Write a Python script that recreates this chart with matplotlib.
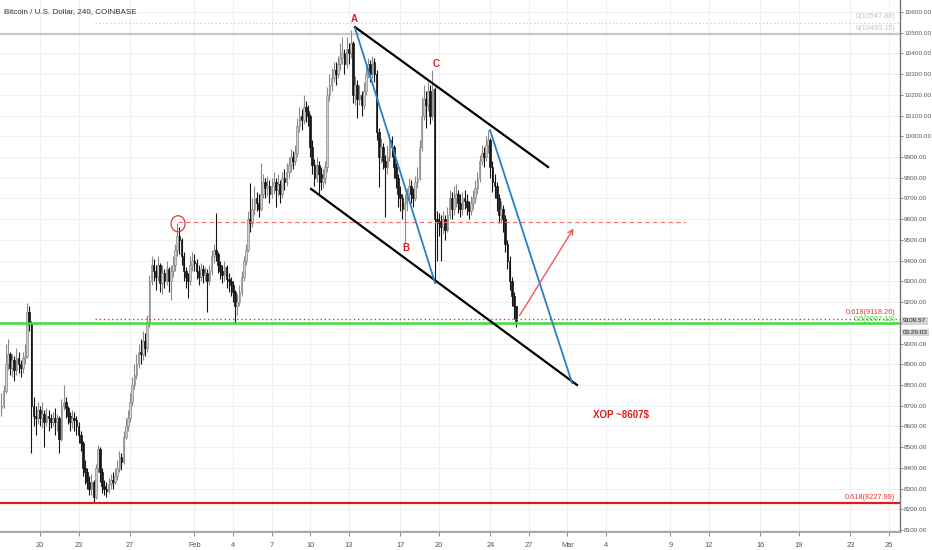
import matplotlib
matplotlib.use("Agg")
import matplotlib.pyplot as plt
import matplotlib.transforms as mtransforms
from matplotlib.patches import Ellipse
import numpy as np

# ---------------- data ----------------
title = "Bitcoin / U.S. Dollar, 240, COINBASE"
first_open = 8690
# 4H candles from Jan 17 00:00 (day -3 relative to Jan 20) to Feb 26 00:00
closes = [
    8700, 8770, 8900, 8950, 8880, 8920,
    8870, 8930, 8900, 8880, 8930, 8940,
    9150, 9100, 8700, 8650, 8640, 8680,
    8640, 8660, 8620, 8650, 8640, 8620,
    8640, 8620, 8640, 8540, 8700, 8720,
    8690, 8650, 8620, 8640, 8630, 8600,
    8560, 8520, 8400, 8380, 8330, 8300,
    8330, 8260, 8400, 8490, 8380, 8310,
    8300, 8290, 8320, 8340, 8330, 8360,
    8400, 8450, 8430, 8550, 8600, 8640,
    8720, 8800, 8850, 8900, 8960, 8950,
    9010, 8980, 9100, 9300, 9380, 9350,
    9320, 9380, 9290, 9340, 9300, 9360,
    9300, 9350, 9380, 9450, 9520, 9500,
    9420, 9350, 9320, 9300, 9380, 9400,
    9390, 9350, 9320, 9360, 9330, 9340,
    9300, 9350, 9420, 9450, 9430, 9380,
    9350, 9330, 9370, 9310, 9300, 9280,
    9250, 9180, 9200, 9250, 9320, 9400,
    9450, 9600, 9580, 9650, 9700, 9680,
    9650, 9720, 9780, 9750, 9760, 9720,
    9760, 9780, 9740, 9770, 9720, 9800,
    9780, 9830, 9860, 9900, 9880, 9920,
    10050, 10100, 10080, 10140, 10120, 10100,
    9950, 9860, 9800, 9860, 9820, 9780,
    9800, 9850, 10200, 10250, 10280, 10320,
    10300, 10350, 10380, 10400, 10350, 10420,
    10400, 10450, 10200, 10250, 10180, 10200,
    10150, 10220, 10300, 10350, 10300, 10360,
    10300, 10020, 9900, 9950, 9880, 9850,
    9900, 9980, 9950, 9850, 9800, 9720,
    9700, 9650, 9680, 9720, 9760, 9720,
    9700, 9780, 9800, 9950, 10100, 10180,
    10150, 10220, 10100, 10230, 9600, 9590,
    9580, 9560, 9600, 9550, 9620, 9700,
    9650, 9700, 9720, 9680, 9650, 9700,
    9690, 9660, 9640, 9680, 9700, 9750,
    9800, 9880, 9920, 9900, 9960, 9980,
    9850, 9780, 9760, 9700, 9620, 9650,
    9600, 9480, 9400, 9300, 9230, 9180,
    9109.57,
]
highs = [
    8760, 8800, 9000, 9020, 8960, 8950,
    8940, 8980, 8960, 8920, 8960, 9000,
    9195, 9180, 9110, 8740, 8700, 8720,
    8700, 8720, 8680, 8690, 8680, 8660,
    8670, 8690, 8660, 8650, 8730, 8800,
    8740, 8700, 8670, 8680, 8670, 8650,
    8620, 8580, 8530, 8440, 8400, 8360,
    8370, 8340, 8420, 8510, 8500, 8400,
    8340, 8330, 8350, 8370, 8380, 8400,
    8440, 8480, 8470, 8580, 8640, 8680,
    8760, 8840, 8900, 8950, 9000, 9020,
    9060, 9050, 9140, 9330, 9420, 9410,
    9380, 9420, 9390, 9380, 9360, 9400,
    9370, 9380, 9420, 9480, 9580, 9560,
    9510, 9440, 9370, 9340, 9420, 9440,
    9430, 9410, 9380, 9390, 9380, 9370,
    9360, 9380, 9450, 9480, 9630, 9440,
    9400, 9380, 9400, 9380, 9340, 9320,
    9300, 9260, 9240, 9280, 9350, 9420,
    9480, 9640, 9775, 9700, 9760, 9730,
    9720, 9870, 9820, 9800, 9810, 9790,
    9800, 9830, 9800, 9820, 9790, 9830,
    9840, 9870, 9900, 9940, 9930, 9960,
    10090, 10140, 10130, 10200, 10170, 10150,
    10110, 9980, 9890, 9900, 9880, 9850,
    9840, 9880, 10240, 10300, 10330, 10360,
    10360, 10390, 10450, 10480, 10420, 10480,
    10450, 10513, 10460, 10290, 10270, 10250,
    10220, 10260, 10340, 10380, 10370, 10390,
    10380, 10320, 10040, 9990, 9970, 9910,
    9960, 10015, 10000, 9960, 9870, 9820,
    9760, 9720, 9720, 9750, 9800, 9790,
    9750, 9810, 9850, 9980, 10190, 10250,
    10220, 10260, 10250, 10320, 10240, 9640,
    9630, 9620, 9640, 9620, 9660, 9740,
    9730, 9760, 9770, 9740, 9720, 9730,
    9740, 9720, 9690, 9710, 9740, 9790,
    9830, 9910, 9960, 9950, 10000, 10030,
    9990, 9880, 9820, 9780, 9720, 9690,
    9670, 9620, 9500, 9420, 9320, 9250,
    9180,
]
lows = [
    8650, 8690, 8760, 8870, 8850, 8840,
    8820, 8850, 8860, 8840, 8860, 8900,
    8930, 9060, 8470, 8600, 8560, 8610,
    8600, 8590, 8500, 8600, 8580, 8590,
    8600, 8560, 8580, 8470, 8530, 8680,
    8640, 8610, 8580, 8590, 8580, 8560,
    8520, 8480, 8360, 8320, 8300, 8270,
    8270, 8230, 8250, 8380, 8330, 8280,
    8270, 8260, 8280, 8300, 8300, 8320,
    8340, 8380, 8390, 8420, 8540, 8580,
    8620, 8700, 8780, 8830, 8880, 8900,
    8920, 8940, 8960, 9080, 9280, 9300,
    9260, 9300, 9250, 9240, 9270, 9280,
    9250, 9210, 9320, 9350, 9420, 9430,
    9380, 9300, 9270, 9220, 9280, 9350,
    9350, 9310, 9280, 9300, 9290, 9300,
    9150, 9280, 9330, 9390, 9400, 9340,
    9310, 9290, 9300, 9270, 9250, 9230,
    9200, 9100, 9140, 9180, 9230, 9300,
    9380, 9440, 9540, 9560, 9620, 9640,
    9610, 9640, 9700, 9700, 9710, 9680,
    9700, 9720, 9660, 9710, 9680, 9700,
    9740, 9760, 9800, 9830, 9840, 9860,
    9900, 10020, 10030, 10060, 10070, 10050,
    9900, 9820, 9760, 9780, 9720, 9740,
    9750, 9770, 9830, 10170, 10220, 10260,
    10250, 10280, 10320, 10350, 10300, 10330,
    10350, 10380, 10160, 10150, 10090, 10150,
    10100, 10130, 10200, 10280, 10260, 10280,
    10260, 9980, 9755, 9870, 9840, 9610,
    9820, 9880, 9900, 9800, 9750, 9660,
    9640, 9600, 9485, 9640, 9690, 9680,
    9660, 9690, 9750, 9790, 9930, 10080,
    10040, 10120, 10060, 10080, 9300, 9400,
    9520, 9400, 9530, 9500, 9540, 9600,
    9600, 9620, 9660, 9630, 9610, 9620,
    9650, 9620, 9600, 9620, 9650, 9680,
    9720, 9780, 9860, 9850, 9880, 9920,
    9800, 9730, 9700, 9640, 9580, 9580,
    9540, 9440, 9360, 9260, 9180, 9120,
    9080,
]

date_ticks = [0, 3, 7, 12, 15, 18, 21, 24, 28, 31, 35, 38, 41, 44, 49, 52, 56, 59, 63, 66]
date_labels = ["20", "23", "27", "Feb", "4", "7", "10", "13", "17", "20", "24", "27",
               "Mar", "4", "9", "12", "16", "19", "23", "26"]
price_ticks = list(range(8100, 10601, 100))

last_price = 9109.57
countdown = "03:26:03"
lvl_gray_dotted = 10547.88
lvl_gray_solid = 10493.15
lvl_red_dotted = 9118.26
lvl_green = 9097.13
lvl_red_solid = 8227.99
lvl_red_dashed = 9586.0
lvl_circle = (10.73, 9578.0)

upper_channel = ([24.49, 39.49], [10527.0, 9852.0])
lower_channel = ([21.07, 41.74], [9746.0, 8800.0])
blue_1 = ([24.49, 30.71], [10522.0, 9292.0])
blue_2 = ([34.98, 41.36], [10030.0, 8809.0])
red_arrow = ([37.16, 41.59], [9123.0, 9567.0])
dashed_span = (10.73, 50.14)
dotted_start = 4.3

points = {"A": (24.41, 10566.0), "C": (30.78, 10350.0), "B": (28.45, 9461.0)}
target_text = ("XOP ~8607$", 45.17, 8655.0)

FAM = ["Liberation Sans", "DejaVu Sans"]

# ---------------- figure ----------------
W, H = 932, 550
fig = plt.figure(figsize=(W / 100, H / 100), dpi=100)
fig.patch.set_facecolor("white")
ax = fig.add_axes([0, (H - 532) / H, 900 / W, 532 / H])
ax.set_xlim(-3.11, 66.85)
ax.set_ylim(8090.3, 10657.9)

# grid
for d in date_ticks:
    ax.axvline(d, color="#edf0f4", lw=0.8, zorder=0)
for p in price_ticks:
    ax.axhline(p, color="#edf0f4", lw=0.8, zorder=0)

# candles
n = len(closes)
xs = -3 + np.arange(n) / 6.0
opens = [first_open] + closes[:-1]
width = 0.13
for x, o, c, h, l in zip(xs, opens, closes, highs, lows):
    up = c >= o
    wick = "#8a8a8a" if up else "#151515"
    ax.vlines(x, l, h, color=wick, lw=0.8, zorder=2)
    body_lo = min(o, c)
    body_h = max(abs(c - o), 5)
    if up:
        ax.bar(x, body_h, width, bottom=body_lo, color="#cfcfcf",
               edgecolor="#8a8a8a", linewidth=0.5, zorder=3)
    else:
        ax.bar(x, body_h, width, bottom=body_lo, color="#151515",
               edgecolor="#151515", linewidth=0.5, zorder=3)

# horizontal levels
ax.axhline(lvl_gray_solid, color="#c8c8c8", lw=1.6, zorder=1)
ax.plot([dotted_start, 66.85], [lvl_gray_dotted] * 2, color="#c8c8c8", lw=0.9, ls=(0, (1, 2)), zorder=1)
ax.plot([dotted_start, 66.85], [lvl_red_dotted] * 2, color="#e53935", lw=1.0, ls=(0, (1, 2)), zorder=4)
ax.axhline(lvl_green, color="#3ddc3d", lw=1.8, zorder=4)
ax.axhline(lvl_red_solid, color="#e01b1b", lw=1.6, zorder=4)
ax.plot(dashed_span, [lvl_red_dashed] * 2, color="#ef6b6b", lw=0.8, ls=(0, (4, 3)), zorder=4)

# circle around peak
circ = Ellipse(lvl_circle, width=14 / 12.864, height=16 / 0.2072, fill=False,
               edgecolor="#e53935", lw=0.9, zorder=5)
ax.add_patch(circ)

# channel and waves
ax.plot(*upper_channel, color="black", lw=1.6, zorder=5)
ax.plot(*lower_channel, color="black", lw=1.6, zorder=5)
ax.plot(*blue_1, color="#2a7fc4", lw=1.3, zorder=5)
ax.plot(*blue_2, color="#2a7fc4", lw=1.3, zorder=5)
ax.annotate("", xy=(red_arrow[0][1], red_arrow[1][1]), xytext=(red_arrow[0][0], red_arrow[1][0]),
            arrowprops=dict(arrowstyle="->", color="#f05a5a", lw=1.0, mutation_scale=9), zorder=6)

for k, (x, y) in points.items():
    ax.text(x, y, k, color="#e01b1b", fontsize=7, fontweight="bold", ha="center", va="center",
            zorder=6, family=FAM)
ax.text(target_text[1], target_text[2], target_text[0], color="#e01b1b", fontsize=7,
        fontweight="bold", ha="center", va="center", zorder=6, family=FAM)

# level labels on right
xr = 66.5
kw = dict(fontsize=5.3, ha="right", va="bottom", family=FAM)
ax.text(xr, lvl_gray_dotted + 12, f"0({lvl_gray_dotted:.2f})", color="#c4c4c4", **kw)
ax.text(xr, lvl_gray_solid + 8, f"0({lvl_gray_solid:.2f})", color="#c4c4c4", **kw)
ax.text(xr, lvl_red_dotted + 14, f"0.618({lvl_red_dotted:.2f})", color="#e53935", **kw)
ax.text(xr, lvl_green + 4, f"0.5({lvl_green:.2f})", color="#3ddc3d", **kw)
ax.text(xr, lvl_red_solid + 10, f"0.618({lvl_red_solid:.2f})", color="#e53935", **kw)

# title
ax.text(0.004, 0.978, title, transform=ax.transAxes, fontsize=5.8, color="#333333",
        ha="left", va="center", family=FAM)

# axes styling
for s in ["top", "left"]:
    ax.spines[s].set_visible(False)
ax.spines["right"].set_color("#777777")
ax.spines["bottom"].set_color("#9a9a9a")
ax.spines["right"].set_linewidth(1.0)
ax.spines["bottom"].set_linewidth(1.2)
ax.yaxis.tick_right()
ax.set_yticks(price_ticks)
# 9100 label sits under the last-price box in the original
ax.set_yticklabels(["" if p == 9100 else f"{p:.2f}" for p in price_ticks])
ax.set_xticks(date_ticks)
ax.set_xticklabels(date_labels)
ax.tick_params(axis="y", direction="out", length=2, width=0.6, color="#777777",
               labelsize=4.6, labelcolor="#555555", pad=1)
ax.tick_params(axis="x", direction="out", length=3, width=0.6, color="#777777",
               labelsize=5.3, labelcolor="#555555", pad=4)
for lab in ax.get_yticklabels() + ax.get_xticklabels():
    lab.set_family(FAM)

# last price and countdown boxes
tr = mtransforms.blended_transform_factory(ax.transAxes, ax.transData)
bkw = dict(transform=tr, fontsize=4.6, color="#222222", ha="left", va="center",
           family=FAM, clip_on=False)
ax.text(1.0035, last_price, f"{last_price:.2f}",
        bbox=dict(boxstyle="square,pad=0.2", fc="#d4d4d4", ec="none"), **bkw)
ax.text(1.0035, last_price - 57, countdown,
        bbox=dict(boxstyle="square,pad=0.2", fc="#d4d4d4", ec="none"), **bkw)

fig.savefig("out.png", dpi=100)
